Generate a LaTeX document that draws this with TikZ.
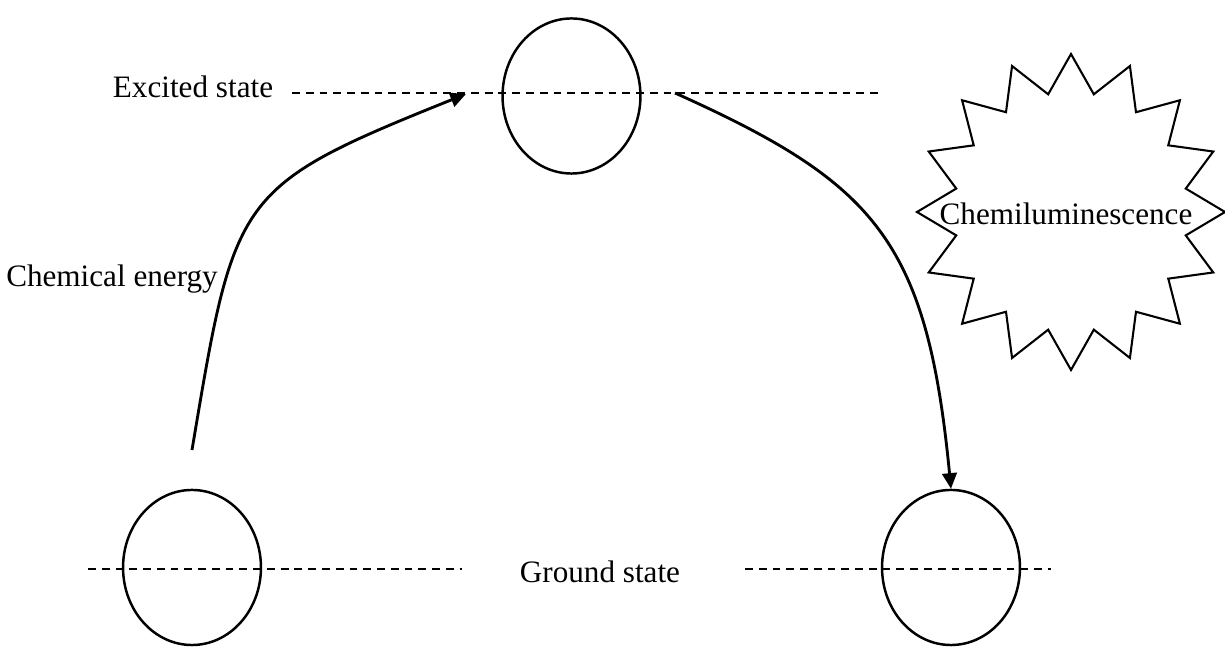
\documentclass[tikz,border=0pt]{standalone}
\usepackage{fontspec}
\setmainfont{Liberation Serif}
\usetikzlibrary{shapes.geometric,arrows.meta}

\tikzset{
  lbl/.style={font=\fontsize{12}{14}\selectfont, inner sep=0pt, anchor=base},
  molecule/.style={draw, ellipse, line width=0.95pt, inner sep=0pt,
                   minimum width=53.1pt, minimum height=59.7pt},
  level/.style={line width=0.95pt, dash pattern=on 3pt off 2.3pt},
  flow/.style={line width=1.1pt, -{Triangle[length=6pt,width=5.6pt]}},
  burst/.style={line width=0.8pt, line join=miter}
}

\begin{document}
\begin{tikzpicture}[x=0.385pt, y=-0.385pt]
  \useasboundingbox (0,0) rectangle (1225,648);

  % energy levels
  \coordinate (exL) at (292,93);   \coordinate (exR) at (883,93);
  \coordinate (gLa) at (88,569);   \coordinate (gLb) at (462,569);
  \coordinate (gRa) at (745,569);  \coordinate (gRb) at (1051,569);
  \draw[level] (exL) -- (exR);
  \draw[level] (gLa) -- (gLb);
  \draw[level] (gRa) -- (gRb);

  % molecules
  \node[molecule] (top)  at (571.5,96)  {};
  \node[molecule] (botL) at (192,567.5) {};
  \node[molecule] (botR) at (951,567.5) {};

  % labels
  \node[lbl] (excited) at (193,98)  {Excited state};
  \node[lbl] (ground)  at (600,583) {Ground state};
  \node[lbl] (chem)    at (112,287) {Chemical energy};

  % light burst
  \begin{scope}[shift={(1071,212)}]
    \draw[burst] (0:154 and 158)
      \foreach \k in {0,...,14} { -- (\k*22.5+11.25:117 and 120) -- (\k*22.5+22.5:154 and 158) }
      -- (348.75:117 and 120) -- cycle;
  \end{scope}
  \node[lbl] (light) at (1066,225) {Chemiluminescence};

  % transitions
  \coordinate (rise) at (192,450);
  \coordinate (upTip) at (466,94);
  \coordinate (fall) at (675,93);
  \draw[flow] (rise) .. controls (235,194) and (234.5,187) .. (upTip);
  \draw[flow] (fall) .. controls (875,183) and (927,240) .. (botR.north);
\end{tikzpicture}
\end{document}
